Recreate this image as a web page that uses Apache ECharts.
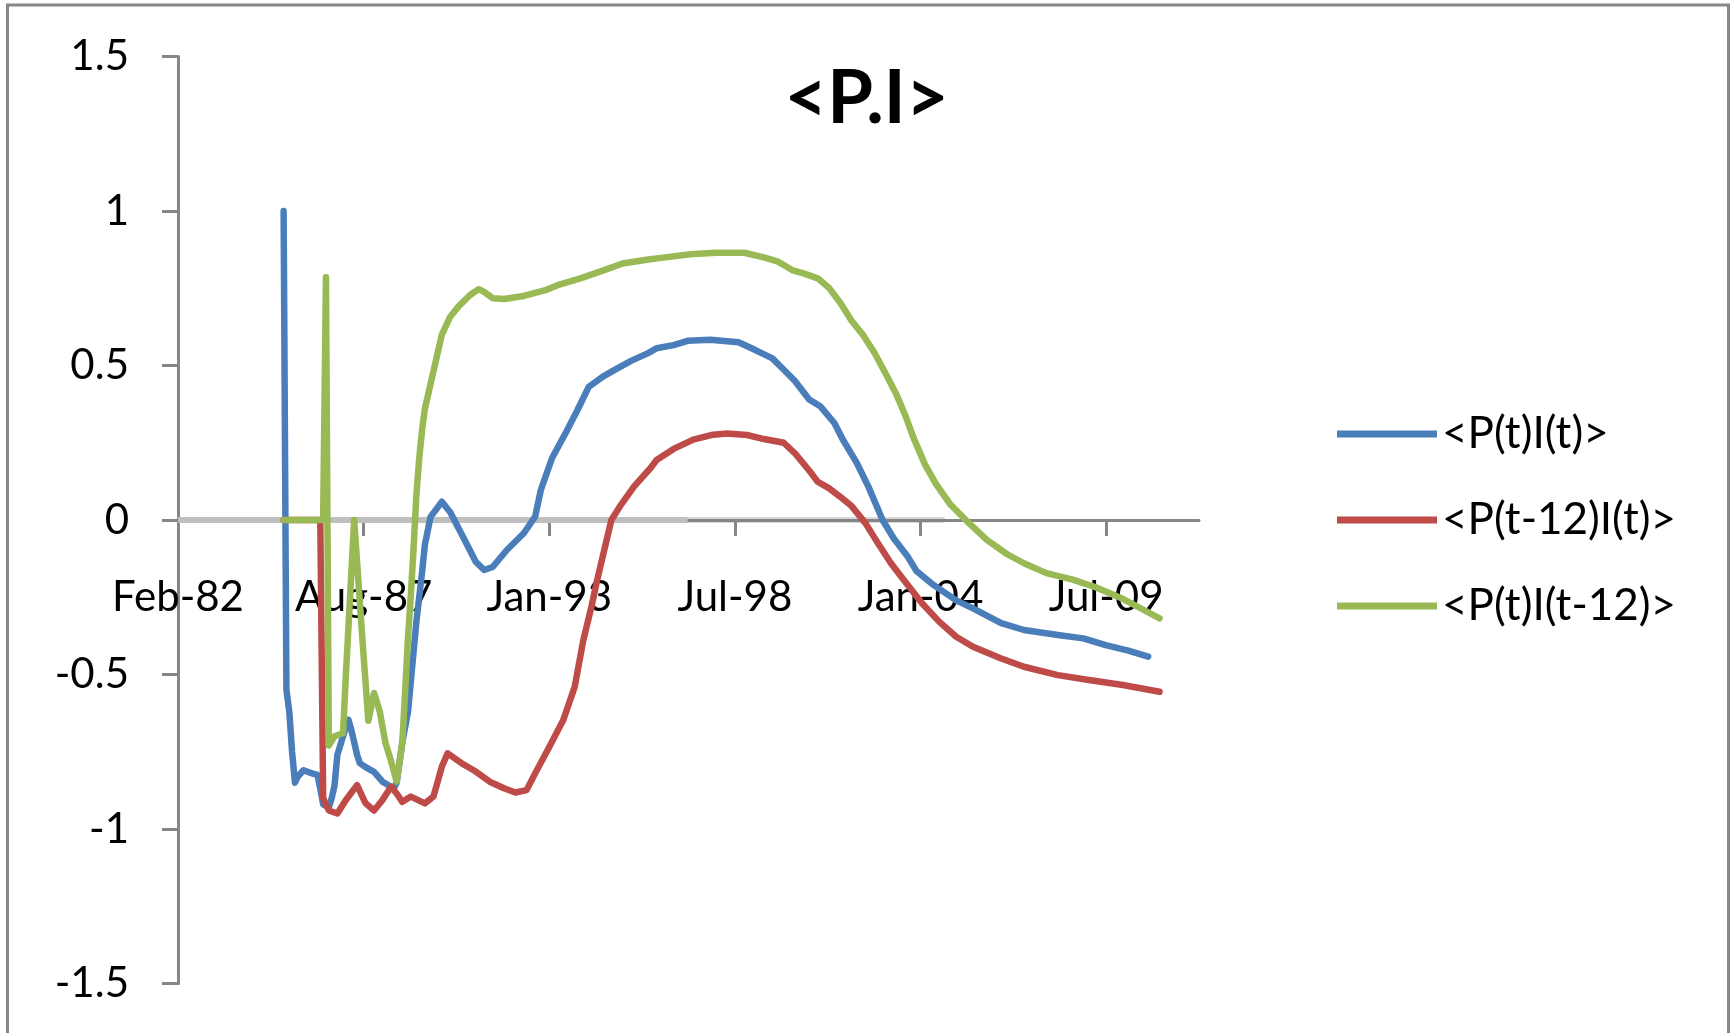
<!DOCTYPE html>
<html>
<head>
<meta charset="utf-8">
<title>&lt;P.I&gt;</title>
<script src="https://cdn.jsdelivr.net/npm/echarts@6/dist/echarts.min.js"></script>
<style>
  html, body { margin: 0; padding: 0; background: #ffffff; }
  #chart { width: 1733px; height: 1033px; }
</style>
</head>
<body>
<div id="chart"></div>
<script>
// Monthly correlation series, sampled as (month, value) pairs.
const seriesNames = ['<P(t)I(t)>', '<P(t-12)I(t)>', '<P(t)I(t-12)>'];
const seriesColors = ['#4a7ebb', '#be4b48', '#98b954'];

// <P(t)I(t)>
const ptItDates = [
  '1985-04','1985-05','1985-06','1985-07','1985-08','1985-09','1985-11','1986-02','1986-04','1986-05',
  '1986-06','1986-08','1986-09','1986-10','1986-11','1987-01','1987-03','1987-04','1987-06','1987-07',
  '1987-09','1987-12','1988-03','1988-07','1988-08','1988-10','1988-12','1989-01','1989-03','1989-05',
  '1989-06','1989-08','1989-12','1990-03','1990-07','1990-12','1991-03','1991-06','1991-11','1992-05',
  '1992-09','1992-11','1993-03','1993-08','1993-12','1994-04','1994-09','1995-01','1995-07','1996-01',
  '1996-04','1996-10','1997-03','1997-11','1998-09','1999-03','1999-09','1999-12','2000-05','2000-10',
  '2001-02','2001-07','2001-10','2002-03','2002-07','2002-12','2003-04','2003-09','2003-12','2004-06',
  '2005-02','2005-08','2006-06','2007-02','2008-02','2008-11','2009-07','2010-03','2010-10'
];
const ptItValues = [
  1.0, -0.55, -0.62, -0.75, -0.85, -0.83, -0.81, -0.82, -0.825, -0.87,
  -0.92, -0.93, -0.90, -0.86, -0.76, -0.70, -0.647, -0.68, -0.76, -0.787,
  -0.80, -0.815, -0.847, -0.868, -0.85, -0.72, -0.62, -0.52, -0.33, -0.17,
  -0.08, 0.01, 0.059, 0.025, -0.045, -0.135, -0.162, -0.152, -0.097, -0.043,
  0.011, 0.097, 0.20, 0.285, 0.356, 0.431, 0.464, 0.485, 0.515, 0.54,
  0.556, 0.566, 0.58, 0.583, 0.575, 0.55, 0.523, 0.496, 0.45, 0.39,
  0.367, 0.313, 0.259, 0.183, 0.108, 0.0, -0.06, -0.12, -0.165, -0.21,
  -0.26, -0.286, -0.334, -0.356, -0.372, -0.383, -0.405, -0.423, -0.442
];

// <P(t-12)I(t)>
const plagItDates = [
  '1985-04','1986-05','1986-06','1986-08','1986-11','1987-02','1987-06','1987-09','1987-12','1988-03',
  '1988-06','1988-08','1988-10','1989-01','1989-06','1989-09','1989-12','1990-02','1990-07','1990-12',
  '1991-05','1991-10','1992-02','1992-06','1992-09','1993-02','1993-07','1993-11','1994-02','1994-05',
  '1994-07','1994-12','1995-03','1995-08','1996-02','1996-04','1996-10','1997-05','1997-12','1998-05',
  '1998-12','1999-06','2000-01','2000-05','2000-10','2001-01','2001-05','2001-09','2002-01','2002-06',
  '2002-10','2003-03','2003-08','2004-02','2004-08','2005-02','2005-08','2006-06','2007-02','2008-02',
  '2009-01','2010-01','2011-02'
];
const plagItValues = [
  0, 0, -0.90, -0.94, -0.95, -0.906, -0.858, -0.917, -0.94, -0.906,
  -0.863, -0.885, -0.912, -0.895, -0.917, -0.895, -0.798, -0.755, -0.787, -0.814,
  -0.847, -0.868, -0.882, -0.874, -0.82, -0.734, -0.647, -0.54, -0.39, -0.28,
  -0.194, 0.0, 0.043, 0.108, 0.17, 0.194, 0.23, 0.26, 0.276, 0.28,
  0.275, 0.262, 0.25, 0.216, 0.16, 0.124, 0.103, 0.075, 0.045, -0.011,
  -0.07, -0.14, -0.20, -0.27, -0.329, -0.378, -0.41, -0.448, -0.475, -0.502,
  -0.518, -0.534, -0.556
];

// <P(t)I(t-12)>
const ptIlagDates = [
  '1985-04','1986-06','1986-07','1986-08','1986-10','1987-01','1987-02','1987-05','1987-08','1987-10',
  '1987-12','1988-02','1988-04','1988-06','1988-08','1988-10','1988-11','1988-12','1989-01','1989-02',
  '1989-03','1989-04','1989-05','1989-06','1989-08','1989-10','1989-12','1990-03','1990-06','1990-10',
  '1991-01','1991-03','1991-06','1991-10','1992-05','1992-09','1993-01','1993-05','1994-01','1994-08',
  '1995-04','1996-01','1996-07','1997-04','1998-01','1998-11','1999-06','1999-11','2000-04','2000-08',
  '2001-01','2001-05','2001-09','2002-01','2002-05','2002-09','2003-01','2003-05','2003-08','2003-11',
  '2004-03','2004-07','2004-12','2005-06','2006-01','2006-08','2007-02','2007-10','2008-07','2009-03',
  '2010-01','2010-07','2011-02'
];
const ptIlagValues = [
  0, 0, 0.786, -0.73, -0.70, -0.69, -0.50, 0.0, -0.40, -0.65,
  -0.56, -0.62, -0.72, -0.78, -0.847, -0.72, -0.55, -0.38, -0.24, -0.08,
  0.08, 0.20, 0.29, 0.36, 0.44, 0.52, 0.60, 0.658, 0.692, 0.728,
  0.747, 0.738, 0.718, 0.715, 0.725, 0.735, 0.745, 0.76, 0.782, 0.804,
  0.83, 0.843, 0.85, 0.86, 0.865, 0.865, 0.85, 0.836, 0.809, 0.798,
  0.782, 0.752, 0.703, 0.645, 0.60, 0.543, 0.475, 0.405, 0.34, 0.265,
  0.18, 0.115, 0.05, -0.005, -0.065, -0.11, -0.14, -0.172, -0.192, -0.216,
  -0.255, -0.284, -0.318
];

// Light grey zero line lying along the horizontal axis
const baseDatesA = ['1982-02-18', '1997-03'];
const baseValuesA = [0, 0];
const baseDatesB = ['1997-03', '2004-10'];
const baseValuesB = [0, 0];

// Date axis: spreadsheet day serials, a tick every 2000 days
const xTickSerials = [30000, 32000, 34000, 36000, 38000, 40000];
const xTickLabels = ['Feb-82', 'Aug-87', 'Jan-93', 'Jul-98', 'Jan-04', 'Jul-09'];
const xMin = 30000, xMax = 41000, xStep = 2000;
const yMin = -1.5, yMax = 1.5, yStep = 0.5;

const FONT = 'Lato, "Open Sans", "Noto Sans", sans-serif';
const AXIS_GREY = '#868686';

// Grid box in pixels; the date labels hang just below the zero line.
const GRID = { left: 178, right: 534, top: 56.5, bottom: 49.5 };
const CHART_H = 1033;
const zeroLabelTop = 576.5;

function daySerial(s) {
  const p = s.split('-').map(Number);
  return Math.round((Date.UTC(p[0], p[1] - 1, p[2] || 1) - Date.UTC(1899, 11, 30)) / 86400000);
}
function toPoints(dates, values) {
  return dates.map((d, i) => [daySerial(d), values[i]]);
}

function dataLine(name, color, dates, values) {
  return {
    name: name,
    type: 'line',
    data: toPoints(dates, values),
    showSymbol: false,
    symbol: 'none',
    smooth: false,
    silent: true,
    z: 3,
    itemStyle: { color: color },
    lineStyle: { color: color, width: 6.5, join: 'round', cap: 'round' }
  };
}
function baseLine(name, color, width, z, dates, values) {
  return {
    name: name,
    type: 'line',
    data: toPoints(dates, values),
    showSymbol: false,
    symbol: 'none',
    silent: true,
    z: z,
    lineStyle: { color: color, width: width }
  };
}

const chart = echarts.init(document.getElementById('chart'), null, { renderer: 'canvas' });

chart.setOption({
  backgroundColor: '#ffffff',
  animation: false,
  title: {
    text: '<P.I>',
    left: 'center',
    top: 62,
    padding: 0,
    textStyle: { fontFamily: FONT, fontSize: 74, fontWeight: 'bold', color: '#000000' }
  },
  legend: {
    data: seriesNames,
    orient: 'vertical',
    left: 1337,
    top: 409,
    padding: 0,
    itemGap: 36,
    itemWidth: 100,
    itemHeight: 7,
    icon: 'rect',
    selectedMode: false,
    textStyle: { fontFamily: FONT, fontSize: 44, color: '#000000', lineHeight: 50 }
  },
  grid: {
    left: GRID.left, right: GRID.right, top: GRID.top, bottom: GRID.bottom,
    containLabel: false,
    outerBoundsMode: 'none'
  },
  xAxis: {
    type: 'value',
    min: xMin, max: xMax, interval: xStep,
    axisLine: { show: true, onZero: true, lineStyle: { color: AXIS_GREY, width: 3 } },
    axisTick: {
      show: true, inside: false, length: 16,
      customValues: xTickSerials,
      lineStyle: { color: AXIS_GREY, width: 3 }
    },
    axisLabel: {
      show: true,
      // labels are laid out from the grid's bottom edge, so pull them up under the zero line
      margin: zeroLabelTop - (CHART_H - GRID.bottom),
      showMaxLabel: false,
      hideOverlap: false,
      fontFamily: FONT, fontSize: 42, color: '#000000',
      formatter: function (v) {
        const i = xTickSerials.indexOf(Math.round(Number(v)));
        return i >= 0 ? xTickLabels[i] : '';
      }
    },
    splitLine: { show: false }
  },
  yAxis: {
    type: 'value',
    min: yMin, max: yMax, interval: yStep,
    axisLine: { show: true, onZero: false, lineStyle: { color: AXIS_GREY, width: 3 } },
    axisTick: { show: true, inside: false, length: 16, lineStyle: { color: AXIS_GREY, width: 3 } },
    axisLabel: { margin: 49, fontFamily: FONT, fontSize: 42, color: '#000000' },
    splitLine: { show: false }
  },
  graphic: [{
    type: 'rect',
    silent: true,
    z: 100,
    shape: { x: 7.5, y: 5, width: 1721, height: 1100 },
    style: { fill: null, stroke: AXIS_GREY, lineWidth: 3 }
  }],
  series: [
    baseLine('base-a', '#bfbfbf', 6, 1, baseDatesA, baseValuesA),
    baseLine('base-b', '#d9d9d9', 6, -1, baseDatesB, baseValuesB),
    dataLine(seriesNames[0], seriesColors[0], ptItDates, ptItValues),
    dataLine(seriesNames[1], seriesColors[1], plagItDates, plagItValues),
    dataLine(seriesNames[2], seriesColors[2], ptIlagDates, ptIlagValues)
  ]
});
</script>
</body>
</html>
